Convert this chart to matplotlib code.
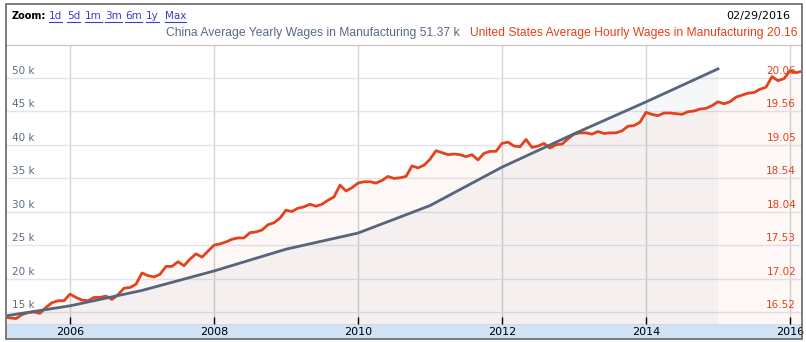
import matplotlib
matplotlib.use("Agg")
import matplotlib.pyplot as plt
from matplotlib.patches import Rectangle
from matplotlib.lines import Line2D

W, H = 806, 342

# China average yearly wages in manufacturing (thousands), one value per year
china_years = [2004, 2005, 2006, 2007, 2008, 2009, 2010, 2011, 2012, 2013, 2014]
china_wages = [14.25, 15.93, 18.23, 21.14, 24.40, 26.81, 30.92, 36.67, 41.65, 46.43, 51.37]

# US average hourly wages in manufacturing (USD), monthly from Jan 2005 to Feb 2016
us_wages = [
    16.44, 16.43, 16.42, 16.48, 16.51, 16.52, 16.50, 16.59, 16.66, 16.69, 16.69, 16.79,
    16.74, 16.70, 16.69, 16.74, 16.74, 16.76, 16.71, 16.78, 16.88, 16.89, 16.94, 17.11,
    17.07, 17.05, 17.09, 17.21, 17.21, 17.28, 17.22, 17.32, 17.40, 17.35, 17.44, 17.53,
    17.55, 17.58, 17.62, 17.64, 17.64, 17.72, 17.73, 17.76, 17.84, 17.87, 17.94, 18.06,
    18.04, 18.09, 18.11, 18.15, 18.12, 18.15, 18.21, 18.26, 18.44, 18.35, 18.40, 18.47,
    18.49, 18.49, 18.47, 18.51, 18.57, 18.54, 18.55, 18.57, 18.73, 18.70, 18.74, 18.83,
    18.96, 18.93, 18.90, 18.91, 18.90, 18.87, 18.90, 18.82, 18.92, 18.95, 18.95, 19.07,
    19.09, 19.03, 19.02, 19.13, 19.01, 19.03, 19.07, 19.00, 19.05, 19.06, 19.14, 19.21,
    19.23, 19.23, 19.21, 19.25, 19.22, 19.23, 19.23, 19.26, 19.33, 19.34, 19.39, 19.54,
    19.51, 19.49, 19.53, 19.53, 19.52, 19.51, 19.55, 19.56, 19.59, 19.60, 19.64, 19.70,
    19.67, 19.70, 19.77, 19.80, 19.83, 19.84, 19.89, 19.92, 20.08, 20.02, 20.05, 20.17,
    20.14, 20.16,
]
us_start_year = 2005

left_ticks = [15, 20, 25, 30, 35, 40, 45, 50]
left_labels = ["15 k", "20 k", "25 k", "30 k", "35 k", "40 k", "45 k", "50 k"]
right_labels = ["16.52", "17.02", "17.53", "18.04", "18.54", "19.05", "19.56", "20.06"]
x_ticks = [2006, 2008, 2010, 2012, 2014, 2016]
zoom_links = ["1d", "5d", "1m", "3m", "6m", "1y", "Max"]
date_label = "02/29/2016"

red = "#e3421c"
china_c = "#56647c"

# yearly values sit at the end of their year, monthly values at month end
china_x = [y + 1 for y in china_years]
us_x = [us_start_year + (i + 1) / 12 for i in range(len(us_wages))]

fig = plt.figure(figsize=(W / 100, H / 100), dpi=100, facecolor="white")
pos = [7 / W, 1 - 324 / H, (801 - 7) / W, (324 - 45) / H]

ax = fig.add_axes(pos)
left_lim = (13.21, 54.94)
right_lim = (16.338, 20.559)
xlim = (2005.125, 2016.153)

ax.set_xlim(*xlim)
ax.set_ylim(*left_lim)
ax.set_yticks(left_ticks)
ax.set_xticks(x_ticks)
ax.set_xticklabels([str(x) for x in x_ticks])
ax.tick_params(axis="y", length=0, labelleft=False)
ax.tick_params(axis="x", direction="in", length=5, width=1, color="black",
               labelsize=8, pad=2, labelcolor="black")
ax.grid(axis="y", color="#e3e3ee", lw=1)
ax.grid(axis="x", color="#d0d6d0", lw=1)
ax.set_axisbelow(True)
for s in ax.spines.values():
    s.set_visible(False)

ax.fill_between(china_x, china_wages, left_lim[0], color=china_c, alpha=0.05, lw=0)

for v, lab in zip(left_ticks, left_labels):
    ax.annotate(lab, xy=(0, v), xycoords=ax.get_yaxis_transform(), xytext=(3.5, 1.5),
                textcoords="offset points", ha="left", va="bottom", fontsize=7.5,
                color="#5d6a85")
for v, lab in zip(left_ticks, right_labels):
    ax.annotate(lab, xy=(1, v), xycoords=ax.get_yaxis_transform(), xytext=(-3.5, 1.5),
                textcoords="offset points", ha="right", va="bottom", fontsize=7.5,
                color=red)

# US series on its own scale
ax2 = ax.twinx()
ax2.set_ylim(*right_lim)
ax2.axis("off")
ax2.fill_between(us_x, us_wages, right_lim[0], color=red, alpha=0.04, lw=0)
ax2.plot(us_x, us_wages, color=red, lw=2, solid_joinstyle="round")

# China line on top
ax3 = fig.add_axes(pos, sharex=ax, sharey=ax)
ax3.axis("off")
ax3.plot(china_x, china_wages, color=china_c, lw=2)

# x axis band
fig.add_artist(Rectangle((7 / W, 1 - 338 / H), (801 - 7) / W, 14 / H,
                         transform=fig.transFigure, color="#d0e2f6", zorder=-1))

# header
fig.add_artist(Line2D([6 / W, 801 / W], [1 - 45 / H] * 2, color="#c8c8c8", lw=1,
                      transform=fig.transFigure))
fig.text(12 / W, 1 - 16 / H, "Zoom:", fontsize=7, fontweight="bold", va="center")
link_x = [49, 67, 85, 105, 125, 146, 165]
links = []
for lx, lab in zip(link_x, zoom_links):
    links.append(fig.text(lx / W, 1 - 16 / H, lab, fontsize=7.5, color="#3b3bd0", va="center"))
fig.text(790 / W, 1 - 16 / H, date_label, fontsize=8, ha="right", va="center")

fig.text(460 / W, 1 - 33 / H,
         f"China Average Yearly Wages in Manufacturing {china_wages[-1]:.2f} k",
         fontsize=8.7, family="Liberation Sans", color="#5a6a85", ha="right", va="center")
fig.text(797 / W, 1 - 33 / H,
         f"United States Average Hourly Wages in Manufacturing {us_wages[-1]:.2f}",
         fontsize=8.7, family="Liberation Sans", color=red,
         ha="right", va="center")

# underline the zoom links
fig.canvas.draw()
r = fig.canvas.get_renderer()
for t in links:
    bb = t.get_window_extent(r)
    fig.add_artist(Line2D([bb.x0 / W, bb.x1 / W], [(H - 22) / H] * 2, color="#3b3bd0",
                          lw=0.8, transform=fig.transFigure))

# outer frame
fig.add_artist(Rectangle((6 / W, 1 - 339 / H), 795.5 / W, 335 / H, fill=False,
                         edgecolor="#666666", lw=1.2, transform=fig.transFigure, zorder=10))

fig.savefig("out.png", dpi=100)
